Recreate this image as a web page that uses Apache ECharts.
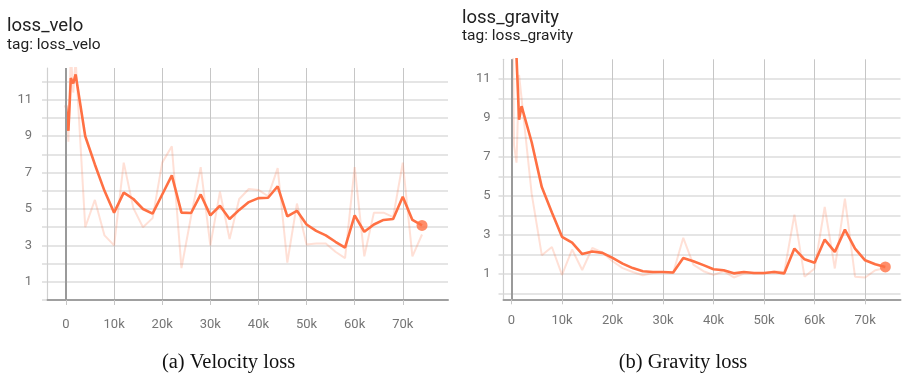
<!DOCTYPE html>
<html>
<head>
<meta charset="utf-8">
<script src="https://cdn.jsdelivr.net/npm/echarts@6/dist/echarts.min.js"></script>
<style>
  html, body { margin: 0; padding: 0; background: #ffffff; }
  #chart { width: 902px; height: 375px; }
</style>
</head>
<body>
<div id="chart"></div>
<script>
// Training steps shared by both scalar runs
const steps = [0, 500, 1000, 1500, 2000, 4000, 6000, 8000, 10000, 12000, 14000, 16000, 18000, 20000,
  22000, 24000, 26000, 28000, 30000, 32000, 34000, 36000, 38000, 40000, 42000, 44000, 46000, 48000,
  50000, 52000, 54000, 56000, 58000, 60000, 62000, 64000, 66000, 68000, 70000, 72000, 74000];

// loss_velo: raw scalar and smoothed curve
const veloRaw = [10.7, 8.7, 13.6, 11.4, 13.2, 4.0, 5.5, 3.55, 3.0, 7.55, 5.05, 4.0, 4.5, 7.55,
  8.45, 1.75, 4.6, 7.3, 3.0, 5.95, 3.35, 5.55, 6.1, 6.05, 5.7, 7.25, 2.05, 5.3,
  3.05, 3.1, 3.1, 2.65, 2.3, 7.3, 2.4, 4.8, 4.8, 4.55, 7.55, 2.4, 3.6];
const veloSmooth = [10.7, 9.3, 12.2, 11.9, 12.4, 9.0, 7.45, 6.0, 4.8, 5.9, 5.55, 5.0, 4.75, 5.8,
  6.85, 4.8, 4.78, 5.8, 4.65, 5.18, 4.45, 4.95, 5.38, 5.6, 5.62, 6.25, 4.6, 4.9,
  4.15, 3.8, 3.55, 3.2, 2.88, 4.65, 3.75, 4.15, 4.4, 4.45, 5.68, 4.4, 4.1];

// loss_gravity: raw scalar and smoothed curve
const gravRaw = [18.5, 7.6, 6.7, 11.2, 10.0, 5.1, 1.96, 2.38, 0.95, 2.25, 1.2, 2.33, 2.1, 1.65,
  1.3, 1.1, 0.93, 1.05, 1.1, 1.05, 2.85, 1.48, 1.14, 0.95, 1.14, 0.82, 1.02, 1.02,
  1.02, 1.14, 1.1, 4.04, 0.86, 1.28, 4.43, 1.28, 4.86, 0.86, 0.82, 1.19, 1.3];
const gravSmooth = [18.5, 14.5, 12.1, 8.9, 9.6, 7.75, 5.45, 4.15, 2.9, 2.6, 2.02, 2.15, 2.08, 1.82,
  1.53, 1.3, 1.14, 1.1, 1.1, 1.07, 1.82, 1.65, 1.45, 1.24, 1.19, 1.03, 1.1, 1.05,
  1.05, 1.1, 1.03, 2.3, 1.75, 1.57, 2.76, 2.13, 3.27, 2.3, 1.7, 1.5, 1.36];

// Axis ticks
const xTicks = [0, 10000, 20000, 30000, 40000, 50000, 60000, 70000];
const veloGridY = [0, 1, 2, 3, 4, 5, 6, 7, 8, 9, 10, 11, 12];
const gravGridY = [0, 1, 2, 3, 4, 5, 6, 7, 8, 9, 10, 11];
const yLabels = [1, 3, 5, 7, 9, 11];

const ORANGE = '#ff7043';
const LABEL = '#757575';
const FONT = 'Roboto';

const pairs = (xs, ys) => xs.map((x, i) => [x, ys[i]]);

function xAxisFor(gridIndex, min, max, labelMargin) {
  return {
    type: 'value', gridIndex, min, max,
    axisLine: { show: true, onZero: false, lineStyle: { color: '#a0a0a0', width: 2 } },
    axisTick: { show: true, customValues: xTicks, length: 5, lineStyle: { color: '#c6c6c6', width: 1 } },
    axisLabel: {
      customValues: xTicks, margin: labelMargin, color: LABEL, fontFamily: FONT, fontSize: 13,
      formatter: v => (v === 0 ? '0' : (v / 1000) + 'k')
    },
    splitLine: { show: true, lineStyle: { color: '#c6c6c6', width: 1 } }
  };
}

function yAxisFor(gridIndex, min, max, gridVals, labelMargin) {
  return {
    type: 'value', gridIndex, min, max,
    axisLine: { show: true, onZero: false, lineStyle: { color: '#d0d0d0', width: 1.2 } },
    axisTick: { show: true, customValues: gridVals, length: 5, lineStyle: { color: '#dcdcdc', width: 1.5 } },
    axisLabel: { customValues: yLabels, margin: labelMargin, color: LABEL, fontFamily: FONT, fontSize: 13 },
    splitLine: { show: true, lineStyle: { color: '#dcdcdc', width: 1.5 } }
  };
}

function runSeries(idx, raw, smooth) {
  const last = steps.length - 1;
  return [
    {
      type: 'line', xAxisIndex: idx, yAxisIndex: idx, data: pairs(steps, raw),
      showSymbol: false, silent: true, clip: true, z: 3,
      lineStyle: { color: ORANGE, width: 2, opacity: 0.22 }
    },
    {
      type: 'line', xAxisIndex: idx, yAxisIndex: idx, data: pairs(steps, smooth),
      showSymbol: false, silent: true, clip: true, z: 4,
      lineStyle: { color: ORANGE, width: 2.6 },
      markLine: {
        silent: true, symbol: 'none', label: { show: false },
        lineStyle: { color: '#9a9a9a', width: 2, type: 'solid' },
        data: [{ xAxis: 0 }]
      }
    },
    {
      type: 'scatter', xAxisIndex: idx, yAxisIndex: idx, silent: true, z: 5,
      data: [[steps[last], smooth[last]]], symbolSize: 11,
      itemStyle: { color: ORANGE }
    }
  ];
}

const chart = echarts.init(document.getElementById('chart'), null, { renderer: 'canvas' });

chart.setOption({
  animation: false,
  backgroundColor: '#ffffff',
  grid: [
    { left: 47, top: 68, width: 401, height: 232 },
    { left: 503.5, top: 59.3, width: 397, height: 240 }
  ],
  xAxis: [
    xAxisFor(0, -3950, 79400, 18),
    xAxisFor(1, -1580, 77000, 15)
  ],
  yAxis: [
    yAxisFor(0, 0, 12.75, veloGridY, 15),
    yAxisFor(1, -0.3, 12, gravGridY, 13)
  ],
  series: [
    ...runSeries(0, veloRaw, veloSmooth),
    ...runSeries(1, gravRaw, gravSmooth)
  ],
  graphic: [
    { type: 'text', x: 7, y: 26, style: { text: 'loss_velo', font: '18.5px Roboto', fill: '#212121', verticalAlign: 'middle' } },
    { type: 'text', x: 7, y: 45, style: { text: 'tag: loss_velo', font: '15.5px Roboto', fill: '#212121', verticalAlign: 'middle' } },
    { type: 'text', x: 462, y: 18, style: { text: 'loss_gravity', font: '18.5px Roboto', fill: '#212121', verticalAlign: 'middle' } },
    { type: 'text', x: 462, y: 36.5, style: { text: 'tag: loss_gravity', font: '15.5px Roboto', fill: '#212121', verticalAlign: 'middle' } },
    { type: 'text', x: 228.5, y: 363, style: { text: '(a) Velocity loss', font: '20.5px "Liberation Serif"', fill: '#111111', align: 'center', verticalAlign: 'middle' } },
    { type: 'text', x: 683, y: 363, style: { text: '(b) Gravity loss', font: '20.5px "Liberation Serif"', fill: '#111111', align: 'center', verticalAlign: 'middle' } }
  ]
});
</script>
</body>
</html>
